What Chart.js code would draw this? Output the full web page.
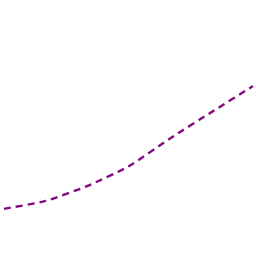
<!DOCTYPE html>
<html>
<head>
<meta charset="utf-8">
<script src="https://cdn.jsdelivr.net/npm/chart.js@4/dist/chart.umd.min.js"></script>
<style>
  html, body { margin: 0; padding: 0; background: #fff; }
  #wrap { width: 256px; height: 256px; }
</style>
</head>
<body>
<div id="wrap"><canvas id="grafico"></canvas></div>
<script>
const categorias = ['1', '2', '3', '4', '5', '6', '7'];
const valores = [18.4, 21.5, 27.3, 35.0, 45.9, 56.2, 66.4];

const ctx = document.getElementById('grafico');

new Chart(ctx, {
    type: 'line',
    data: {
        labels: categorias,
        datasets: [{
            data: valores,
            borderColor: '#850a80',
            borderWidth: 2.4,
            borderDash: [7, 5],
            pointRadius: 0,
            fill: false,
            tension: 0.2
        }]
    },
    options: {
        responsive: true,
        maintainAspectRatio: false,
        animation: false,
        layout: { padding: { left: 4, right: 3, top: 0, bottom: 0 } },
        plugins: {
            legend: { display: false },
            tooltip: { enabled: false }
        },
        scales: {
            x: { display: false },
            y: { display: false, min: 0, max: 100 }
        }
    }
});
</script>
</body>
</html>
